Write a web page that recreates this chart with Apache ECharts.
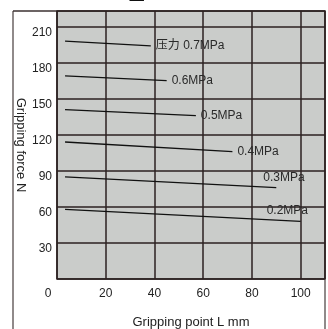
<!DOCTYPE html>
<html>
<head>
<meta charset="utf-8">
<script src="https://cdn.jsdelivr.net/npm/echarts@6/dist/echarts.min.js"></script>
<style>
  html, body { margin: 0; padding: 0; background: #fff; }
  #chart { width: 328px; height: 329px; }
</style>
</head>
<body>
<div id="chart"></div>
<script>
// 压力曲线
var pressures = ['压力 0.7MPa', '0.6MPa', '0.5MPa', '0.4MPa', '0.3MPa', '0.2MPa'];
var startX = [3.3, 3.3, 3.3, 3.3, 3.3, 3.3];
var endX   = [38.5, 45, 57, 72, 90, 100];
var startY = [198, 169, 141, 114, 85, 58];
var endY   = [194, 165, 136, 106, 76, 48];
var xTicks = [0, 20, 40, 60, 80, 100];
var yTicks = [30, 60, 90, 120, 150, 180, 210];

// label offsets (0.3 / 0.2 sit above the line end)
var labelOffset = [[0, 0], [0, 0], [0, 0], [0, 0], [-18, -10], [-39, -11]];

var chart = echarts.init(document.getElementById('chart'));
var font = 'Liberation Sans, Arial, Noto Sans CJK SC, sans-serif';

var series = pressures.map(function (name, i) {
    return {
        name: name,
        type: 'line',
        symbol: 'none',
        silent: true,
        lineStyle: { color: '#111', width: 1.3 },
        data: [[startX[i], startY[i]], [endX[i], endY[i]]],
        endLabel: {
            show: true,
            formatter: name,
            color: '#2a2a2a',
            fontSize: 12,
            fontFamily: font,
            distance: 5,
            offset: labelOffset[i]
        }
    };
});

var option = {
    animation: false,
    grid: {
        left: 57, right: 3, top: 11, bottom: 50,
        outerBoundsMode: 'none',
        show: true,
        backgroundColor: '#caccca',
        borderColor: '#2b2020',
        borderWidth: 1.5
    },
    xAxis: {
        type: 'value',
        min: 0, max: 110, interval: 20,
        name: 'Gripping point L mm',
        nameLocation: 'middle',
        nameMoveOverlap: false,
        nameGap: 37,
        nameTextStyle: { color: '#222', fontSize: 13, fontFamily: font },
        axisLine: { show: false },
        axisTick: { show: false },
        axisLabel: {
            color: '#222', fontSize: 12, fontFamily: font, margin: 9,
            showMaxLabel: false,
            formatter: function (v) {
                if (xTicks.indexOf(v) < 0) return '';
                return v === 0 ? '{z|0}' : String(v);
            },
            rich: { z: { fontSize: 12, fontFamily: font, color: '#222', padding: [0, 18, 0, 0] } }
        },
        splitLine: { show: true, lineStyle: { color: '#2b2020', width: 1.5 } }
    },
    yAxis: {
        type: 'value',
        min: 0, max: 223, interval: 30,
        name: 'Gripping force N',
        nameLocation: 'middle',
        nameMoveOverlap: false,
        nameGap: 30,
        nameRotate: -90,
        nameTextStyle: { color: '#222', fontSize: 13, fontFamily: font },
        axisLine: { show: false },
        axisTick: { show: false },
        axisLabel: {
            color: '#222', fontSize: 12, fontFamily: font, margin: 5,
            showMinLabel: false, showMaxLabel: false,
            verticalAlign: 'top',
            formatter: function (v) { return yTicks.indexOf(v) < 0 ? '' : String(v); }
        },
        splitLine: { show: true, lineStyle: { color: '#2b2020', width: 1.5 } }
    },
    graphic: [
        { type: 'text', x: 46, y: 4,
          style: { text: 'MHZ2-25D 型', fill: '#111', font: 'bold 16px ' + font, verticalAlign: 'bottom' } },
        { type: 'line', shape: { x1: 13, y1: 11, x2: 13, y2: 329 },
          style: { stroke: '#6b6363', lineWidth: 1.5 } },
        { type: 'line', shape: { x1: 13, y1: 11, x2: 57, y2: 11 },
          style: { stroke: '#3b3030', lineWidth: 1.5 } },
        { type: 'line', shape: { x1: 325, y1: 279, x2: 325, y2: 329 },
          style: { stroke: '#6b6363', lineWidth: 1.5 } }
    ],
    series: series
};

chart.setOption(option);
window.addEventListener('resize', function () { chart.resize(); });
</script>
</body>
</html>
